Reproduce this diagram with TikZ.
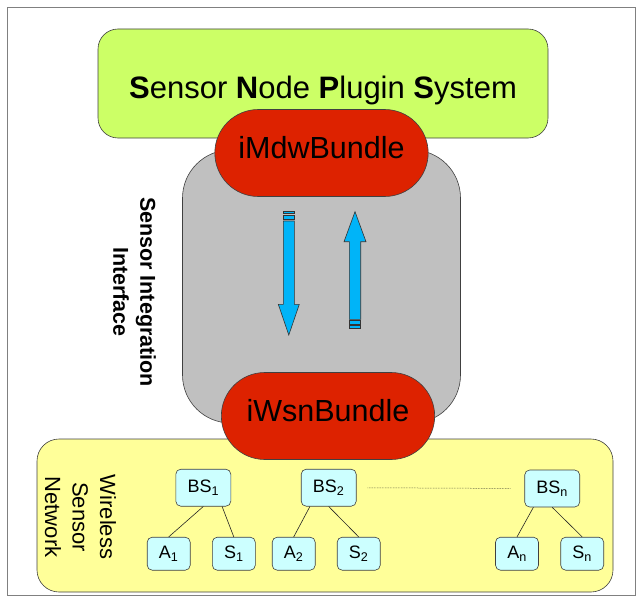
\documentclass[tikz,border=0pt]{standalone}
\usepackage{fontspec}
\setmainfont{Liberation Sans}
\usetikzlibrary{shapes.misc}
\definecolor{plugingreen}{HTML}{CCFF66}
\definecolor{bundlered}{HTML}{DD2200}
\definecolor{ifacegray}{HTML}{C0C0C0}
\definecolor{wsnyellow}{HTML}{FFFF99}
\definecolor{nodecyan}{HTML}{CCFFFF}
\definecolor{flowblue}{HTML}{00B4F8}
\begin{document}
\begin{tikzpicture}[x=1pt,y=-1pt]
  \tikzstyle{box}=[draw=black!75,line width=0.6pt]
  \tikzstyle{bundle}=[box,rounded rectangle,fill=bundlered,minimum width=220pt,minimum height=87pt,text depth=12pt,font=\fontsize{30.5}{36}\selectfont]
  \tikzstyle{station}=[box,rectangle,rounded corners=5pt,fill=nodecyan,minimum width=55pt,minimum height=37pt,inner sep=0pt,font=\fontsize{18}{22}\selectfont]
  \tikzstyle{leaf}=[station,minimum width=43pt,minimum height=33pt]
  \tikzstyle{flow}=[draw=black!80,fill=flowblue,line width=0.6pt]
  \tikzstyle{link}=[draw=black!85,line width=0.6pt]
  \useasboundingbox (0,0) rectangle (644,607);
  \draw[black!50,line width=0.8pt] (7,7) rectangle (635,595);
  % interface
  \node[box,fill=ifacegray,rounded corners=48pt,minimum width=278pt,minimum height=273pt] (iface) at (321.5,286.5) {};
  \node[rotate=-90,align=center,font=\fontsize{21.5}{27}\selectfont\bfseries] (ifacelabel) at (134.5,292) {Sensor Integration\\Interface};
  % plugin system
  \node[box,fill=plugingreen,rounded corners=20pt,minimum width=450pt,minimum height=109pt,text height=30pt,text depth=0pt,font=\fontsize{31}{36}\selectfont] (plugin) at (323,83.5)
    {\textbf{S}ensor \textbf{N}ode \textbf{P}lugin \textbf{S}ystem};
  \node[bundle] (mdw) at (321.5,153) {iMdwBundle};
  % flows
  \filldraw[flow] (283.3,221) -- (294.3,221) -- (294.3,304.3) -- (299.3,304.3) -- (288.8,335) -- (278.3,304.3) -- (283.3,304.3) -- cycle;
  \filldraw[flow] (283.3,211.7) rectangle (294.3,213.7);
  \filldraw[flow] (283.3,215) rectangle (294.3,219.7);
  \filldraw[flow] (349.3,319.3) -- (349.3,241.7) -- (344,241.7) -- (355,211.7) -- (366,241.7) -- (360.7,241.7) -- (360.7,319.3) -- cycle;
  \filldraw[flow] (349.3,320.7) rectangle (360.7,324);
  \filldraw[flow] (349.3,325) rectangle (360.7,328.3);
  % sensor network
  \node[box,fill=wsnyellow,rounded corners=22pt,minimum width=576pt,minimum height=153pt] (wsn) at (325,515.5) {};
  \node[bundle] (wsnb) at (328,416) {iWsnBundle};
  \node[rotate=-90,align=center,font=\fontsize{22}{27.5}\selectfont] (wsnlabel) at (80.5,517) {Wireless\\Sensor\\Network};
  \node[station] (BSone) at (203.3,487.7) {BS\textsubscript{1}};
  \node[leaf] (Aone) at (168.7,553.7) {A\textsubscript{1}};
  \node[leaf] (Sone) at (233.8,553.7) {S\textsubscript{1}};
  \node[station] (BStwo) at (328.7,487.7) {BS\textsubscript{2}};
  \node[leaf] (Atwo) at (293.7,553.7) {A\textsubscript{2}};
  \node[leaf] (Stwo) at (358.7,553.7) {S\textsubscript{2}};
  \node[station] (BSn) at (552.2,488.5) {BS\textsubscript{n}};
  \node[leaf] (An) at (517,553.7) {A\textsubscript{n}};
  \node[leaf] (Sn) at (582.2,553.7) {S\textsubscript{n}};
  \draw[link] (BSone.south) -- (Aone.north);
  \draw[link] (BSone.-45) -- (Sone.north);
  \draw[link] (BStwo.-135) -- (Atwo.north);
  \draw[link] (BStwo.south) -- (Stwo.north);
  \draw[link] (BSn.-135) -- (An.north);
  \draw[link] (BSn.south) -- (Sn.north);
  \draw[link,densely dotted,line width=0.5pt,shorten <=11pt,shorten >=14pt] (BStwo.east) -- (BSn.west);
\end{tikzpicture}
\end{document}
